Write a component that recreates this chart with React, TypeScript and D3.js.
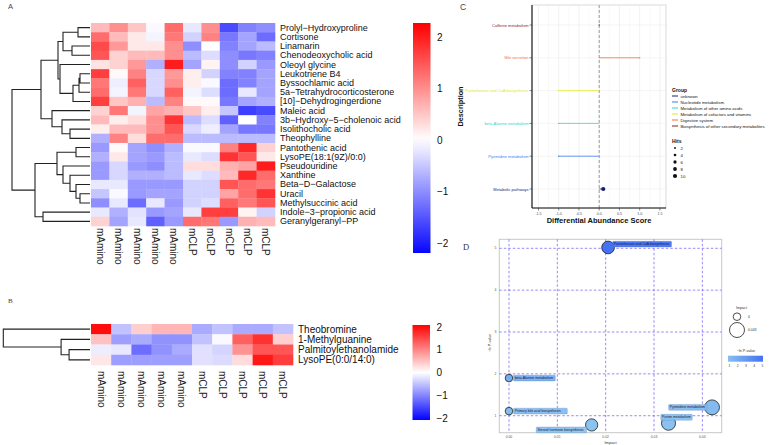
import React from "react";
import * as d3 from "d3";

const SANS = "'Liberation Sans', Arial, Helvetica, sans-serif";
const SERIF = "'Liberation Serif', 'Times New Roman', serif";

// ---------------- Panel A data ----------------
const samples = ["mAmino", "mAmino", "mAmino", "mAmino", "mAmino", "mCLP", "mCLP", "mCLP", "mCLP", "mCLP"];
const metabolitesA = [
  "Prolyl\u2212Hydroxyproline", "Cortisone", "Linamarin", "Chenodeoxycholic acid", "Oleoyl glycine",
  "Leukotriene B4", "Byssochlamic acid", "5a\u2212Tetrahydrocorticosterone", "[10]\u2212Dehydrogingerdione",
  "Maleic acid", "3b\u2212Hydroxy\u22125\u2212cholenoic acid", "Isolithocholic acid", "Theophylline",
  "Pantothenic acid", "LysoPE(18:1(9Z)/0:0)", "Pseudouridine", "Xanthine", "Beta\u2212D\u2212Galactose",
  "Uracil", "Methylsuccinic acid", "Indole\u22123\u2212propionic acid", "Geranylgeranyl\u2212PP",
];
const valuesA = [
  [0.6, 1.0, 0.5, -0.05, 1.3, -0.2, 1.0, -1.6, -1.1, -1.0],
  [1.3, 0.6, 0.2, -0.1, 1.2, -0.4, 1.1, -1.2, -0.8, -1.3],
  [1.6, 0.9, 0.2, 0.2, 1.0, -1.0, 0.0, -1.1, -0.8, -0.6],
  [1.5, 0.4, 0.6, 0.6, 1.0, -0.6, -0.3, -1.0, -1.2, -1.1],
  [0.25, 0.4, 0.9, -0.7, 2.0, -0.8, 0.1, -1.0, -0.4, -0.9],
  [1.7, 0.05, 1.1, -0.35, 0.9, 0.15, -0.4, -1.1, -1.1, -0.8],
  [1.2, -0.15, 1.4, -0.35, 1.0, 0.15, -0.05, -1.3, -1.1, -0.8],
  [1.3, -0.1, 1.2, -0.35, 1.4, -0.1, -0.3, -1.3, -0.2, -0.8],
  [1.7, 0.5, 0.7, -0.6, 1.1, 0.05, 0.05, -1.2, -0.8, -0.7],
  [0.4, 1.2, -0.1, 0.8, 0.7, 0.5, 0.15, -0.5, -1.7, -1.6],
  [0.6, 0.15, 0.3, 1.0, 1.8, -0.6, -0.3, -1.4, 0.0, -1.1],
  [0.15, 0.6, 0.6, 1.0, 1.5, -0.35, -0.15, -0.8, -1.2, -1.2],
  [-0.7, 1.1, 0.3, 1.3, 1.3, -0.6, -0.6, -0.6, -0.6, -0.6],
  [-0.9, 0.05, -0.8, -1.0, -0.7, -0.05, -0.05, 1.1, 1.9, 0.4],
  [-0.7, 0.2, -0.8, -0.9, -0.6, -0.2, -0.3, 1.8, 1.5, 0.2],
  [-0.9, -0.35, -0.9, -1.0, -0.6, 0.3, 0.3, 0.7, 0.8, 2.0],
  [-0.9, -0.35, -0.7, -0.7, -0.6, -0.2, -0.3, 0.6, 1.9, 1.3],
  [-0.2, -0.2, -0.9, -0.9, -0.9, -0.4, -0.4, 1.5, 1.3, 1.2],
  [-0.5, -0.05, -0.9, -0.8, -0.8, -0.4, -0.4, 0.8, 1.3, 1.8],
  [-1.0, -0.2, -1.3, -0.2, -0.9, -0.4, -0.3, 1.4, 1.2, 1.5],
  [-0.2, -0.7, -0.25, -0.9, -0.8, -0.2, 1.7, 1.7, 0.1, -0.4],
  [0.4, -0.8, -0.2, -1.4, -0.9, 1.3, 1.2, -0.9, 0.7, 0.6],
];
type TreeNode = number | [TreeNode, TreeNode, number];
// hierarchical clustering of rows: [left, right, merge height]
const treeA: TreeNode = [
  [
    [[[0, 1, 1.3], [2, 3, 1.9], 2.8], [4, [[[5, 6, 1.1], 7, 1.2], 8, 1.8], 3.1], 3.3],
    [9, [10, [11, 12, 2.1], 2.9], 3.9],
    5.0,
  ],
  [
    [[13, 14, 1.5], [15, [16, [17, [18, 19, 1.1], 1.5], 2.1], 2.8], 3.4],
    [20, 21, 4.8],
    5.6,
  ],
  7.9,
];
const legendTicks = [2, 1, 0, -1, -2];

// ---------------- Panel B data ----------------
const metabolitesB = ["Theobromine", "1-Methylguanine", "Palmitoylethanolamide", "LysoPE(0:0/14:0)"];
const valuesB = [
  [2.0, -0.5, 0.4, 0.6, 0.6, -0.7, -0.5, -0.7, -0.7, -0.5],
  [0.5, -0.8, -0.7, -0.9, -0.9, -0.5, -0.05, 1.3, 1.7, 0.4],
  [-0.15, -0.2, -1.2, -0.9, -0.7, -0.25, -0.35, 0.9, 1.4, 1.4],
  [0.2, -0.8, -0.8, -0.8, -0.8, -0.25, -0.3, 0.3, 1.9, 1.6],
];
const treeB: TreeNode = [0, [1, [2, 3, 2.2], 3.0], 8.8];

// ---------------- Panel C data ----------------
const daPathways = [
  "Caffeine metabolism", "Bile secretion", "Pantothenate and CoA biosynthesis",
  "beta-Alanine metabolism", "Pyrimidine metabolism", "Metabolic pathways",
];
const daScores = [0, 1.0, -1.0, -1.0, -1.0, 0.1];
const daHits = [1, 1, 1, 1, 1, 10];
const daGroups = [
  "Biosynthesis of other secondary metabolites", "Digestive system", "Metabolism of cofactors and vitamins",
  "Metabolism of other amino acids", "Nucleotide metabolism", "unknown",
];
const groupOrder = [
  "unknown", "Nucleotide metabolism", "Metabolism of other amino acids",
  "Metabolism of cofactors and vitamins", "Digestive system", "Biosynthesis of other secondary metabolites",
];
const groupColors = ["#1c1c78", "#3d7cf5", "#2fd3d3", "#e2e82a", "#f26b43", "#8b1c1c"];
const hitsLegend = [2, 4, 6, 8, 10];
const daTicks = [-1.5, -1.0, -0.5, 0.0, 0.5, 1.0, 1.5];

// ---------------- Panel D data ----------------
const topoPathways = [
  "Pantothenate and CoA biosynthesis", "beta-Alanine metabolism", "Primary bile acid biosynthesis",
  "Steroid hormone biosynthesis", "Pyrimidine metabolism", "Purine metabolism",
];
const topoImpact = [0.0205, 0.0, 0.0, 0.0171, 0.042, 0.033];
const topoNegLogP = [5.02, 1.9, 1.11, 0.78, 1.2, 0.82];
const impactTicks = [0, 0.01, 0.02, 0.03, 0.04];
const pTicks = [1, 2, 3, 4, 5];
const impactLegend = [0, 0.043];

// label placement (layout): anchor, dx, dy
const topoLabelLayout: [string, number, number][] = [
  ["start", 4.5, -3.3],
  ["start", 4.5, 0],
  ["start", 4.5, 0],
  ["end", -5, 5],
  ["end", -5, 0],
  ["middle", 8, -6],
];

type Pt = { x: number; y: number };
function layoutTree(node: TreeNode, yPos: (i: number) => number, hx: (h: number) => number, leafX: number, out: string[]): Pt {
  if (typeof node === "number") return { x: leafX, y: yPos(node) };
  const [l, r, h] = node;
  const a = layoutTree(l, yPos, hx, leafX, out);
  const b = layoutTree(r, yPos, hx, leafX, out);
  const x = hx(h);
  out.push(`M${a.x},${a.y}H${x}V${b.y}H${b.x}`);
  return { x, y: (a.y + b.y) / 2 };
}

function Heatmap(props: {
  id: string; rows: string[]; values: number[][]; tree: TreeNode; maxH: number;
  x0: number; x1: number; y0: number; y1: number; dendroLeft: number;
  labelX: number; labelSize: number; colLabelY: number; colLabelSize: number; lim: number;
  cbX: number; cbTop: number; cbBot: number; cbT2: number; cbTm2: number;
}) {
  const p = props;
  const x = d3.scaleBand<number>().domain(d3.range(samples.length)).range([p.x0, p.x1]);
  const y = d3.scaleBand<number>().domain(d3.range(p.rows.length)).range([p.y0, p.y1]);
  const color = d3.scaleLinear<string>().domain([-p.lim, 0, p.lim]).range(["#0000FF", "#FFFFFF", "#FF0000"]).clamp(true);
  const hx = d3.scaleLinear().domain([0, p.maxH]).range([p.x0, p.dendroLeft]);
  const paths: string[] = [];
  layoutTree(p.tree, (i) => (y(i) as number) + y.bandwidth() / 2, hx, p.x0 - 1, paths);
  const cbScale = d3.scaleLinear().domain([-2, 2]).range([p.cbTm2, p.cbT2]);
  const stops = d3.range(0, 1.0001, 0.05).map((t) => {
    const v = cbScale.invert(p.cbTop + t * (p.cbBot - p.cbTop));
    return { t, c: color(v) };
  });
  return (
    <g>
      <defs>
        <linearGradient id={p.id} x1="0" y1="0" x2="0" y2="1">
          {stops.map((s, i) => <stop key={i} offset={s.t} stopColor={s.c} />)}
        </linearGradient>
      </defs>
      {p.values.map((row, r) =>
        row.map((v, c) => (
          <rect key={`${r}-${c}`} x={x(c)} y={y(r)} width={x.bandwidth() + 0.3} height={y.bandwidth() + 0.3} fill={color(v)} />
        ))
      )}
      <path d={paths.join("")} fill="none" stroke="#222" strokeWidth={1.1} />
      {p.rows.map((name, r) => (
        <text key={name} x={p.labelX} y={(y(r) as number) + y.bandwidth() / 2} dominantBaseline="central"
          fontFamily={SANS} fontSize={p.labelSize} fill="#111">{name}</text>
      ))}
      {samples.map((s, c) => (
        <text key={c} transform={`translate(${(x(c) as number) + x.bandwidth() / 2},${p.colLabelY}) rotate(90)`}
          dominantBaseline="central" fontFamily={SANS} fontSize={p.colLabelSize} fill="#222">{s}</text>
      ))}
      <rect x={p.cbX} y={p.cbTop} width={17.5} height={p.cbBot - p.cbTop} fill={`url(#${p.id})`} />
      {legendTicks.map((t) => (
        <text key={t} x={p.cbX + 24} y={cbScale(t)} dominantBaseline="central" fontFamily={SANS} fontSize={10} fill="#111">
          {t < 0 ? `\u2212${Math.abs(t)}` : t}
        </text>
      ))}
    </g>
  );
}

function PanelC() {
  const left = 532, right = 666, top = 5, bottom = 208;
  const x = d3.scaleLinear().domain([-1.66, 1.65]).range([left, right]);
  const y = d3.scalePoint<string>().domain(daPathways).range([25, 189]);
  const r = d3.scaleSqrt().domain([0, 10]).range([0, 2.1]);
  const colorOf = (g: string) => groupColors[groupOrder.indexOf(g)];
  const minor = d3.range(-1.5, 1.51, 0.25).filter((v) => Math.abs(v * 2 - Math.round(v * 2)) > 0.01);
  return (
    <g fontFamily={SANS}>
      <rect x={left} y={top} width={right - left} height={bottom - top} fill="#fff" stroke="#cfcfcf" strokeWidth={0.8} />
      {minor.map((v) => <line key={`m${v}`} x1={x(v)} x2={x(v)} y1={top} y2={bottom} stroke="#f3f3f3" strokeWidth={0.5} />)}
      {daTicks.map((v) => <line key={`g${v}`} x1={x(v)} x2={x(v)} y1={top} y2={bottom} stroke="#e8e8e8" strokeWidth={0.6} />)}
      {daPathways.map((p) => <line key={`h${p}`} x1={left} x2={right} y1={y(p)} y2={y(p)} stroke="#ececec" strokeWidth={0.6} />)}
      <line x1={x(0)} x2={x(0)} y1={top} y2={bottom} stroke="#9a9a9a" strokeWidth={1} strokeDasharray="3,2" />
      {daPathways.map((p, i) => (
        <g key={p}>
          <line x1={x(0)} x2={x(daScores[i])} y1={y(p)} y2={y(p)} stroke={colorOf(daGroups[i])} strokeWidth={0.9} strokeOpacity={0.85} />
          <circle cx={x(daScores[i])} cy={y(p)} r={r(daHits[i])} fill={colorOf(daGroups[i])} />
          <line x1={left - 2.5} x2={left} y1={y(p)} y2={y(p)} stroke="#333" strokeWidth={0.6} />
          <text x={left - 3.5} y={y(p)} textAnchor="end" dominantBaseline="central" fontSize={4} fill={colorOf(daGroups[i])}>{p}</text>
        </g>
      ))}
      <line x1={left} x2={left} y1={top} y2={bottom} stroke="#111" strokeWidth={1.1} />
      <line x1={left} x2={right} y1={bottom} y2={bottom} stroke="#111" strokeWidth={1.1} />
      {daTicks.map((v) => (
        <g key={`t${v}`}>
          <line x1={x(v)} x2={x(v)} y1={bottom} y2={bottom + 2.5} stroke="#333" strokeWidth={0.6} />
          <text x={x(v)} y={bottom + 5.5} textAnchor="middle" dominantBaseline="central" fontSize={3.6} fill="#4d4d4d">{v.toFixed(1)}</text>
        </g>
      ))}
      <text x={(left + right) / 2} y={bottom + 12} textAnchor="middle" dominantBaseline="central" fontSize={7.5} fontWeight="bold" fill="#111">Differential Abundance Score</text>
      <text transform={`translate(460,${(top + bottom) / 2}) rotate(-90)`} textAnchor="middle" dominantBaseline="central" fontSize={7.3} fontWeight="bold" fill="#111">Description</text>
      {/* legend */}
      <text x={672} y={90} fontSize={5} fontWeight="bold" fill="#111" dominantBaseline="central">Group</text>
      {groupOrder.map((g, i) => (
        <g key={g}>
          <line x1={672} x2={678} y1={96 + i * 6} y2={96 + i * 6} stroke={groupColors[i]} strokeWidth={1} />
          <text x={680.5} y={96 + i * 6} fontSize={4.3} dominantBaseline="central" fill="#111">{g}</text>
        </g>
      ))}
      <text x={672} y={141} fontSize={5} fontWeight="bold" fill="#111" dominantBaseline="central">Hits</text>
      {hitsLegend.map((h, i) => (
        <g key={h}>
          <circle cx={675} cy={148 + i * 7} r={r(h)} fill="#111" />
          <text x={680.5} y={148 + i * 7} fontSize={4.3} dominantBaseline="central" fill="#111">{h}</text>
        </g>
      ))}
    </g>
  );
}

function PanelD() {
  const left = 499.3, right = 721.7, top = 239.3, bottom = 432.7;
  const x = d3.scaleLinear().domain([-0.002, 0.044]).range([left, right]);
  const y = d3.scaleLinear().domain([0.594, 5.215]).range([bottom, top]);
  const rs = d3.scaleSqrt().domain([0, 0.043]).range([3.8, 7.5]);
  const col = d3.scaleLinear<string>().domain([1, 5]).range(["#86bff0", "#4472f3"]);
  const fs = 3.5;
  const textW = (s: string) => s.length * fs * 0.49;
  const gradStops = d3.range(0, 1.0001, 0.1);
  const cbL = d3.scaleLinear().domain([1, 5]).range([729.5, 762.5]);
  return (
    <g fontFamily={SANS}>
      <defs>
        <linearGradient id="gradD" x1="0" y1="0" x2="1" y2="0">
          {gradStops.map((t) => <stop key={t} offset={t} stopColor={col(1 + t * 4)} />)}
        </linearGradient>
      </defs>
      <rect x={left} y={top} width={right - left} height={bottom - top} fill="#fff" stroke="#c8c8c8" strokeWidth={1} />
      {impactTicks.map((v) => (
        <g key={`x${v}`}>
          <line x1={x(v)} x2={x(v)} y1={top} y2={bottom} stroke="#7d6cf2" strokeWidth={0.8} strokeDasharray="2.5,2" />
          <text x={x(v)} y={bottom + 4} textAnchor="middle" dominantBaseline="central" fontSize={3.4} fill="#555">{v.toFixed(2)}</text>
        </g>
      ))}
      {pTicks.map((v) => (
        <g key={`y${v}`}>
          <line x1={left} x2={right} y1={y(v)} y2={y(v)} stroke="#7d6cf2" strokeWidth={0.8} strokeDasharray="2.5,2" />
          <text x={left - 3} y={y(v)} textAnchor="end" dominantBaseline="central" fontSize={3.4} fill="#555">{v}</text>
        </g>
      ))}
      <text x={(left + right) / 2} y={bottom + 9.5} textAnchor="middle" dominantBaseline="central" fontSize={4} fill="#333">Impact</text>
      <text transform={`translate(490,${(top + bottom) / 2 + 7}) rotate(-90)`} textAnchor="middle" dominantBaseline="central" fontSize={3.6} fill="#333">{"\u2212ln P-value"}</text>
      {topoPathways.map((p, i) => {
        const cx = x(topoImpact[i]), cy = y(topoNegLogP[i]);
        const [anchor, dx, dy] = topoLabelLayout[i];
        const w = textW(p) + 2.4;
        const lx = anchor === "start" ? cx + dx : anchor === "end" ? cx + dx - w : cx + dx - w / 2;
        const ly = cy + dy;
        return (
          <g key={p}>
            <circle cx={cx} cy={cy} r={rs(topoImpact[i])} fill={col(topoNegLogP[i])} stroke="#222" strokeWidth={0.8} />
            <rect x={lx} y={ly - 2.9} width={w} height={5.8} rx={0.8} fill={col(topoNegLogP[i])} fillOpacity={0.95} stroke="#5a7fc0" strokeWidth={0.3} />
            <text x={lx + 1.2} y={ly + 0.1} dominantBaseline="central" fontSize={fs} fill="#1a1a3a">{p}</text>
          </g>
        );
      })}
      {/* legend */}
      <text x={741.5} y={307.5} textAnchor="middle" dominantBaseline="central" fontSize={3.6} fill="#333">Impact</text>
      {impactLegend.map((v, i) => (
        <g key={v}>
          <circle cx={737} cy={[316.7, 330][i]} r={rs(v)} fill="none" stroke="#222" strokeWidth={0.8} />
          <text x={748} y={[316.7, 330][i]} dominantBaseline="central" fontSize={3.4} fill="#333">{v === 0 ? "0" : v.toFixed(3)}</text>
        </g>
      ))}
      <text x={746} y={350.5} textAnchor="middle" dominantBaseline="central" fontSize={3.6} fill="#333">{"\u2212ln P-value"}</text>
      <rect x={728} y={355.7} width={35} height={6} fill="url(#gradD)" />
      {pTicks.map((v) => (
        <text key={`l${v}`} x={cbL(v)} y={365.5} textAnchor="middle" dominantBaseline="central" fontSize={3.3} fill="#333">{v}</text>
      ))}
    </g>
  );
}

export default function App() {
  return (
    <svg width={784} height={445} viewBox="0 0 784 445"
      style={{ position: "absolute", left: 0, top: 0, background: "#fff" }}>
      <rect x={0} y={0} width={784} height={445} fill="#fff" />
      <text x={8} y={8.5} fontFamily={SANS} fontSize={7.5} fill="#444">A</text>
      <text x={8} y={302.5} fontFamily={SERIF} fontSize={7} fill="#444">B</text>
      <text x={460} y={10.3} fontFamily={SANS} fontSize={8.5} fill="#444">C</text>
      <text x={463} y={249.5} fontFamily={SERIF} fontSize={8.5} fill="#333">D</text>
      <Heatmap id="gradA" rows={metabolitesA} values={valuesA} tree={treeA} maxH={7.9}
        x0={91} x1={275} y0={23} y1={226} dendroLeft={12} labelX={280} labelSize={9}
        colLabelY={228} colLabelSize={10} lim={2.25}
        cbX={413} cbTop={23} cbBot={253} cbT2={37} cbTm2={243} />
      <Heatmap id="gradB" rows={metabolitesB} values={valuesB} tree={treeB} maxH={8.8}
        x0={91} x1={293} y0={324} y1={365} dendroLeft={3.3} labelX={298} labelSize={10}
        colLabelY={371} colLabelSize={10} lim={2.1}
        cbX={412.5} cbTop={325} cbBot={420} cbT2={327} cbTm2={418} />
      <PanelC />
      <PanelD />
    </svg>
  );
}
